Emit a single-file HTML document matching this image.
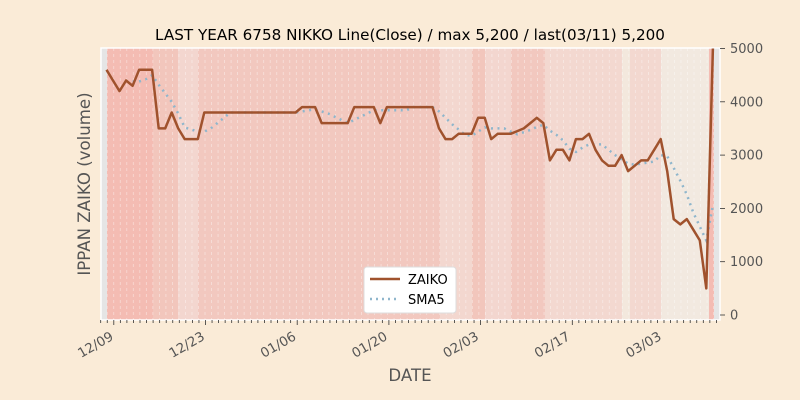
<!DOCTYPE html>
<html><head><meta charset="utf-8"><style>body{margin:0;background:#faebd7}svg{display:block}text{font-family:"DejaVu Sans","Liberation Sans",sans-serif}</style></head>
<body>
<svg width="800" height="400" viewBox="0 0 800 400" xmlns="http://www.w3.org/2000/svg">
<rect width="800" height="400" fill="#faebd7"/>
<rect x="101" y="48" width="619" height="272" fill="#e5e5e5"/>
<g id="bands"></g>
<g id="grid"></g>
<rect x="101" y="48" width="619" height="272" fill="none" stroke="#fff" stroke-width="1.5"/>
<g id="ticks" stroke="#333" stroke-width="0.8"></g>
<g id="lines"></g>
<text x="410" y="40" font-size="15.2" text-anchor="middle" fill="#000">LAST YEAR 6758 NIKKO Line(Close) / max 5,200 / last(03/11) 5,200</text>
<text x="90" y="184" font-size="16.6" fill="#555" text-anchor="middle" transform="rotate(-90 90 184)">IPPAN ZAIKO (volume)</text>
<text x="410" y="381" font-size="16.6" fill="#555" text-anchor="middle">DATE</text>
<g font-size="13" fill="#555" id="ylab"></g>
<g font-size="13.3" fill="#555" id="xlab"></g>
<g>
<rect x="364" y="267" width="92" height="46" rx="3" fill="#fff" stroke="#ddd"/>
<line x1="370" y1="279" x2="400" y2="279" stroke="#a0522d" stroke-width="2.5"/>
<line x1="370" y1="299" x2="400" y2="299" stroke="#8fb6cc" stroke-width="2.5" stroke-dasharray="2,4"/>
<text x="408" y="284" font-size="13">ZAIKO</text>
<text x="408" y="304" font-size="13">SMA5</text>
</g>
</svg>
<script>
const NS="http://www.w3.org/2000/svg";
function el(p,t,a,txt){const e=document.createElementNS(NS,t);for(const k in a)e.setAttribute(k,a[k]);if(txt)e.textContent=txt;document.getElementById(p).appendChild(e);return e;}
const bands=[[107,153,"#f4bcb3"],[153,178,"#f2c6bc"],[178,198,"#f3d6cf"],[198,440,"#f2c8bf"],[440,472,"#f3d7cf"],[472,485,"#f2c6bc"],[485,511,"#f3d6cf"],[511,545,"#f2c8bf"],[545,622,"#f3d8d0"],[622,630,"#f3e8dd"],[630,661,"#f3d8d0"],[661,709,"#f2e9e0"],[709,714,"#f4bcb3"]];
bands.forEach(b=>el("bands","rect",{x:b[0],y:48,width:b[1]-b[0],height:272,fill:b[2]}));
const X=i=>106.5+6.52*i, Y=v=>315-v*0.0533;
for(let i=-1;i<95;i++){const x=X(i)-5.8+6.52; if(x>101&&x<720){el("grid","line",{x1:x,y1:48,x2:x,y2:320,stroke:"#fff","stroke-opacity":0.45,"stroke-width":0.8,"stroke-dasharray":"3,3"});}}
for(let i=-1;i<95;i++){const x=100.7+6.55*(i+1);if(x<=720){const maj=Math.abs((x-113.3)/91.3-Math.round((x-113.3)/91.3))<0.03;el("ticks","line",{x1:x,y1:320,x2:x,y2:maj?325:323});}}
const z=[4600,4400,4200,4400,4300,4600,4600,4600,3500,3500,3800,3500,3300,3300,3300];
for(let i=15;i<=29;i++)z.push(3800);
z.push(3900,3900,3900,3600,3600,3600,3600,3600,3900,3900,3900,3900,3600);
for(let i=43;i<=50;i++)z.push(3900);
z.push(3500,3300,3300,3400,3400,3400,3700,3700,3300,3400,3400,3400,3450,3500,3600,3700,3600,2900,3100,3100,2900,3300,3300,3400,3100,2900,2800,2800,3000,2700,2800,2900,2900,3100,3300,2700,1800,1700,1800,1600,1400,500,5000);
let p="";z.forEach((v,i)=>p+=(i?"L":"M")+X(i).toFixed(1)+","+Y(v).toFixed(1));
let s="";for(let i=4;i<z.length;i++){const m=(z[i]+z[i-1]+z[i-2]+z[i-3]+z[i-4])/5;s+=(i>4?"L":"M")+X(i).toFixed(1)+","+Y(m).toFixed(1);}
el("lines","path",{d:s,fill:"none",stroke:"#8fb6cc","stroke-width":2.5,"stroke-dasharray":"2,4.5"});
el("lines","path",{d:p,fill:"none",stroke:"#a0522d","stroke-width":2.5,"stroke-linejoin":"round"});
for(let v=0;v<=5000;v+=1000){const y=Y(v);el("ticks","line",{x1:720,y1:y,x2:725,y2:y});el("ylab","text",{x:730,y:y+4.5},String(v));}
const xl=[["12/09",113.3],["12/23",204.6],["01/06",296],["01/20",387.3],["02/03",478.6],["02/17",570],["03/03",661.3]];
xl.forEach(a=>{const x=a[1]+1,y=339;el("xlab","text",{x:x,y:y,"text-anchor":"end",transform:`rotate(-30 ${x} ${y})`},a[0]);});
</script>
</body></html>
